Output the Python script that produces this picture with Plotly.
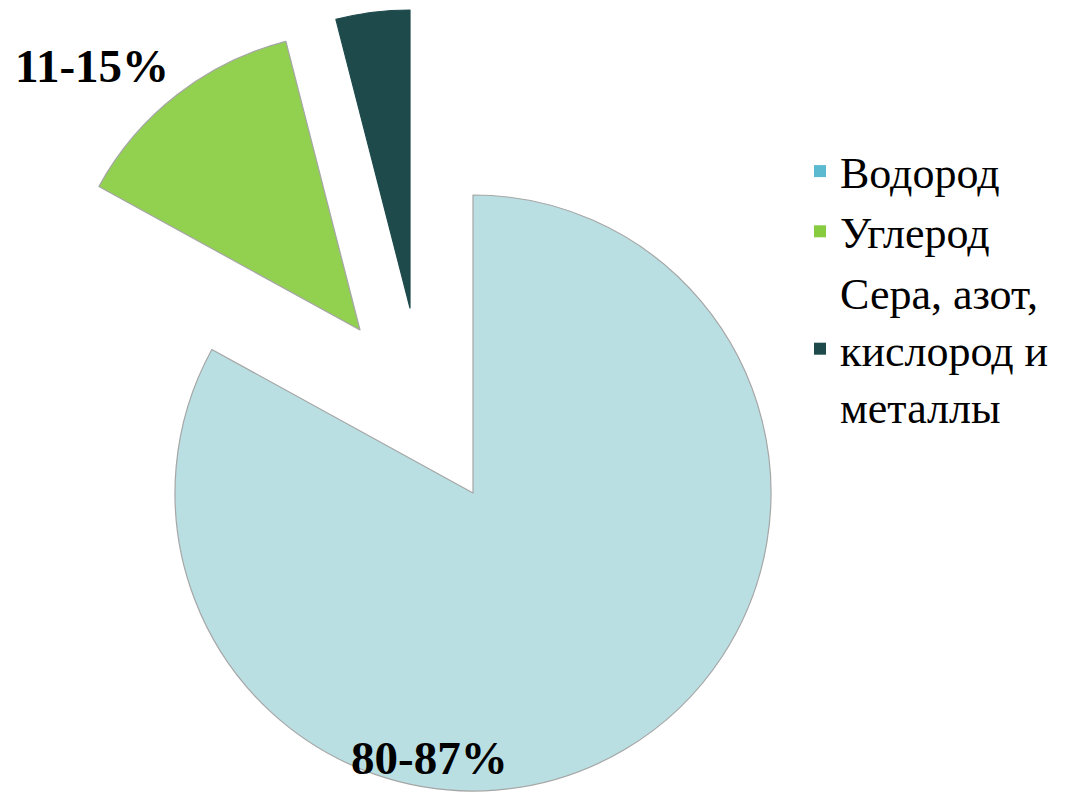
import plotly.graph_objects as go

# ---- data ----
labels = ["Водород", "Углерод", "Сера, азот,<br>кислород и<br>металлы"]
values = [83, 13, 4]
range_labels = ["80-87%", "11-15%"]

# ---- styles ----
slice_colors = ["#B9DFE3", "#92D050", "#1E4A4C"]
legend_colors = ["#5BBAD0", "#86CC3E", "#1E4A4C"]
outline_colors = ["#A6A6A6", "#A6A6A6", "#1E4A4C"]
TRANSPARENT = "rgba(0,0,0,0)"

W, H = 1074, 795
OFF = 8                                        # default page body margin
R = 298                                        # pie radius in px
centers = [(473, 493), (360, 330), (410, 308)]  # exploded piece centres (px)
SERIF = "Liberation Serif"


def px(x):
    return (x - OFF) / W


def py(y):
    return 1 - (y - OFF) / H


def domain(cx, cy, r):
    return dict(x=[px(cx - r), px(cx + r)], y=[py(cy + r), py(cy - r)])


fig = go.Figure()

# legend-only trace (tiny, hidden under the big slice)
fig.add_trace(go.Pie(
    labels=labels, values=values, sort=False, direction="clockwise", rotation=0,
    marker=dict(colors=legend_colors, line=dict(width=0)),
    textinfo="none", hoverinfo="skip", showlegend=True,
    domain=dict(x=[px(620), px(620.5)], y=[py(600.5), py(600)]),
))

# one trace per exploded piece, sharing the same values so angles come from the data
for k, (cx, cy) in enumerate(centers):
    cols = [slice_colors[i] if i == k else TRANSPARENT for i in range(len(values))]
    lcols = [outline_colors[i] if i == k else TRANSPARENT for i in range(len(values))]
    fig.add_trace(go.Pie(
        labels=labels, values=values, sort=False, direction="clockwise", rotation=0,
        marker=dict(colors=cols, line=dict(color=lcols, width=1.2)),
        textinfo="none", hoverinfo="label+percent", showlegend=False,
        domain=domain(cx, cy, R),
    ))

for txt, (ax, ay) in zip(range_labels, [(429, 758), (92, 66)]):
    fig.add_annotation(text="<b>%s</b>" % txt, x=px(ax), y=py(ay),
                       xref="paper", yref="paper", xanchor="center", yanchor="middle",
                       showarrow=False,
                       font=dict(family=SERIF, size=47, color="#000000"))

fig.update_layout(
    width=W, height=H,
    margin=dict(l=0, r=0, t=0, b=0),
    paper_bgcolor="white", plot_bgcolor="white",
    font=dict(family=SERIF, color="#000000"),
    showlegend=True,
    legend=dict(x=px(800), xanchor="left", y=py(136), yanchor="top",
                font=dict(family=SERIF, size=44, color="#000000"),
                bgcolor="rgba(0,0,0,0)", traceorder="normal", valign="middle"),
)

fig.write_html("out.html")
